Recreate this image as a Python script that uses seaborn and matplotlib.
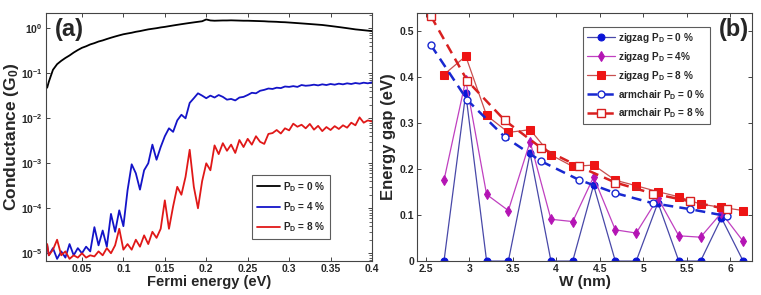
import numpy as np
import pandas as pd
import matplotlib
matplotlib.use("Agg")
import matplotlib.pyplot as plt
import seaborn as sns

# ---- panel (a): conductance vs Fermi energy ----
energy = [0.008, 0.01, 0.015, 0.02, 0.025, 0.03, 0.035, 0.04, 0.045, 0.05,
          0.055, 0.06, 0.065, 0.07, 0.075, 0.08, 0.085, 0.09, 0.095, 0.1,
          0.105, 0.11, 0.115, 0.12, 0.125, 0.13, 0.135, 0.14, 0.145, 0.15,
          0.155, 0.16, 0.165, 0.17, 0.175, 0.18, 0.185, 0.19, 0.195, 0.2,
          0.205, 0.21, 0.215, 0.22, 0.225, 0.23, 0.235, 0.24, 0.245, 0.25,
          0.255, 0.26, 0.265, 0.27, 0.275, 0.28, 0.285, 0.29, 0.295, 0.3,
          0.305, 0.31, 0.315, 0.32, 0.325, 0.33, 0.335, 0.34, 0.345, 0.35,
          0.355, 0.36, 0.365, 0.37, 0.375, 0.38, 0.385, 0.39, 0.395, 0.4]

g_p0 = [0.048, 0.065, 0.12, 0.16, 0.19, 0.22, 0.25, 0.29, 0.33, 0.37,
        0.40, 0.44, 0.47, 0.51, 0.54, 0.58, 0.62, 0.66, 0.70, 0.74,
        0.77, 0.80, 0.84, 0.87, 0.91, 0.95, 0.98, 1.01, 1.05, 1.08,
        1.12, 1.16, 1.20, 1.24, 1.28, 1.32, 1.36, 1.40, 1.44, 1.58,
        1.50, 1.48, 1.49, 1.50, 1.50, 1.51, 1.50, 1.49, 1.48, 1.48,
        1.47, 1.46, 1.45, 1.44, 1.42, 1.41, 1.40, 1.38, 1.37, 1.35,
        1.33, 1.31, 1.29, 1.27, 1.25, 1.23, 1.21, 1.19, 1.16, 1.13,
        1.10, 1.07, 1.04, 1.01, 0.98, 0.95, 0.93, 0.91, 0.89, 0.87]

g_p4 = [1.5e-5, 9e-6, 1.3e-5, 7.5e-6, 1.1e-5, 8e-6, 1.6e-5, 9e-6, 1.3e-5, 1.0e-5,
        1.4e-5, 1.1e-5, 3.8e-5, 1.5e-5, 3.2e-5, 1.4e-5, 7.5e-5, 3.0e-5, 9e-5, 4e-5,
        2.5e-4, 9.5e-4, 6e-4, 2.6e-4, 7e-4, 1.0e-3, 2.6e-3, 1.2e-3, 2.3e-3, 4.0e-3,
        6e-3, 5e-3, 9e-3, 1.2e-2, 1.0e-2, 2.2e-2, 2.8e-2, 3.6e-2, 3.2e-2, 2.8e-2,
        3.2e-2, 2.9e-2, 3.3e-2, 3.0e-2, 2.6e-2, 2.7e-2, 2.5e-2, 2.9e-2, 3.0e-2, 3.3e-2,
        3.7e-2, 3.6e-2, 4.1e-2, 4.3e-2, 4.6e-2, 4.5e-2, 4.8e-2, 4.7e-2, 5.1e-2, 5.0e-2,
        5.2e-2, 5.0e-2, 5.5e-2, 5.3e-2, 5.4e-2, 5.6e-2, 5.4e-2, 5.7e-2, 5.5e-2, 5.8e-2,
        5.6e-2, 5.9e-2, 5.7e-2, 6.0e-2, 5.8e-2, 6.1e-2, 5.9e-2, 6.2e-2, 6.0e-2, 6.3e-2]

g_p8 = [1.6e-5, 9e-6, 1.2e-5, 2.0e-5, 9e-6, 1.1e-5, 7.5e-6, 9e-6, 8e-6, 1.0e-5,
        8e-6, 9e-6, 8.5e-6, 1.1e-5, 9e-6, 1.3e-5, 1.0e-5, 1.5e-5, 3.5e-5, 1.2e-5,
        1.6e-5, 1.2e-5, 2.0e-5, 1.4e-5, 2.5e-5, 1.6e-5, 3.0e-5, 2.2e-5, 3.5e-5, 1.5e-4,
        3.5e-5, 1.1e-4, 3.0e-4, 2.0e-4, 5e-4, 2.0e-3, 3e-4, 1.0e-4, 4e-4, 1.0e-3,
        7e-4, 2.5e-3, 1.6e-3, 2.8e-3, 1.9e-3, 2.6e-3, 1.7e-3, 3.3e-3, 2.3e-3, 3.5e-3,
        2.6e-3, 4.0e-3, 3.0e-3, 2.7e-3, 4.5e-3, 4.7e-3, 5.5e-3, 4.6e-3, 6.0e-3, 5.4e-3,
        7.6e-3, 6.5e-3, 7.2e-3, 6.0e-3, 7.5e-3, 5.6e-3, 6.8e-3, 5.2e-3, 6.4e-3, 5.5e-3,
        6.7e-3, 5.8e-3, 7.0e-3, 6.2e-3, 8.0e-3, 7.0e-3, 1.05e-2, 8.0e-3, 9.0e-3, 8.5e-3]

# ---- panel (b): energy gap vs ribbon width ----
w_zigzag = [2.71, 2.96, 3.2, 3.45, 3.7, 3.94, 4.19, 4.43, 4.68, 4.92, 5.17, 5.41, 5.66, 5.9, 6.15]
gap_zz_p0 = [0, 0.365, 0, 0, 0.235, 0, 0, 0.165, 0, 0, 0.127, 0, 0, 0.094, 0]
gap_zz_p4 = [0.176, 0.394, 0.145, 0.11, 0.26, 0.091, 0.086, 0.183, 0.068, 0.061, 0.137, 0.055, 0.052, 0.105, 0.043]
gap_zz_p8 = [0.406, 0.446, 0.317, 0.28, 0.286, 0.231, 0.206, 0.209, 0.176, 0.164, 0.151, 0.14, 0.124, 0.117, 0.11]

w_armchair = [2.56, 2.98, 3.41, 3.83, 4.26, 4.68, 5.11, 5.54, 5.96]
gap_ac_p0 = [0.47, 0.35, 0.27, 0.217, 0.177, 0.148, 0.126, 0.113, 0.098]
gap_ac_p8 = [0.533, 0.392, 0.306, 0.246, 0.206, 0.171, 0.147, 0.13, 0.113]

sns.set_style("ticks")
plt.rcParams["font.family"] = ["Liberation Sans", "DejaVu Sans"]
plt.rcParams["font.weight"] = "bold"
plt.rcParams["axes.labelweight"] = "bold"
plt.rcParams["mathtext.fontset"] = "custom"
plt.rcParams["mathtext.rm"] = "Liberation Sans:bold"
plt.rcParams["mathtext.bf"] = "Liberation Sans:bold"
plt.rcParams["mathtext.default"] = "bf"

fig = plt.figure(figsize=(7.61, 2.95), dpi=100)
ax1 = fig.add_axes([0.0598, 0.115, 0.429, 0.841])
ax2 = fig.add_axes([0.548, 0.115, 0.440, 0.841])

df_a = pd.DataFrame({"E": energy, "p0": g_p0, "p4": g_p4, "p8": g_p8})
for col, color, lab in [("p0", "black", "P$_D$ = 0 %"),
                        ("p4", "#1414c8", "P$_D$ = 4 %"),
                        ("p8", "#e01818", "P$_D$ = 8 %")]:
    sns.lineplot(data=df_a, x="E", y=col, ax=ax1, color=color, lw=1.3,
                 estimator=None, sort=False, label=lab)
ax1.set_yscale("log")
ax1.set_xlim(0.006, 0.4)
ax1.set_ylim(6.7e-6, 2.2)
ax1.set_xticks([0.05, 0.1, 0.15, 0.2, 0.25, 0.3, 0.35, 0.4])
ax1.set_xticklabels(["0.05", "0.1", "0.15", "0.2", "0.25", "0.3", "0.35", "0.4"])
ax1.set_xlabel("Fermi energy (eV)", fontsize=10.5, labelpad=1)
ax1.set_ylabel("Conductance (G$_0$)", fontsize=12.5, labelpad=0)
ax1.text(0.03, 0.935, "(a)", transform=ax1.transAxes, fontsize=17,
         fontweight="bold", va="center", ha="left")
leg1 = ax1.legend(loc="upper left", bbox_to_anchor=(0.632, 0.347), fontsize=7.2,
                  frameon=True, fancybox=False, edgecolor="#333333",
                  handlelength=2.3, handletextpad=0.3, borderpad=0.5,
                  labelspacing=0.65, borderaxespad=0)
leg1.get_frame().set_linewidth(0.8)

# zigzag and armchair series
zz = pd.DataFrame({"W": w_zigzag, "p0": gap_zz_p0, "p4": gap_zz_p4, "p8": gap_zz_p8})
ac = pd.DataFrame({"W": w_armchair, "p0": gap_ac_p0, "p8": gap_ac_p8})

sns.lineplot(data=zz, x="W", y="p0", ax=ax2, color="#4848a8", lw=0.9,
             marker="o", ms=5, mfc="#0a14d8", mec="#0a14d8",
             estimator=None, sort=False, label="zigzag P$_D$ = 0 %")
sns.lineplot(data=zz, x="W", y="p4", ax=ax2, color="#c040c0", lw=0.9,
             marker="d", ms=5.5, mfc="#b414b4", mec="#b414b4",
             estimator=None, sort=False, label="zigzag P$_D$ = 4%")
sns.lineplot(data=zz, x="W", y="p8", ax=ax2, color="#c85050", lw=0.9,
             marker="s", ms=6, mfc="#ee1414", mec="#ee1414",
             estimator=None, sort=False, label="zigzag P$_D$ = 8 %")
sns.lineplot(data=ac, x="W", y="p0", ax=ax2, color="#1828d0", lw=1.8,
             ls=(0, (4, 2.5)), marker="o", ms=5, mfc="white", mec="#1828d0",
             mew=1.0, estimator=None, sort=False, label="armchair P$_D$ = 0 %")
sns.lineplot(data=ac, x="W", y="p8", ax=ax2, color="#d82020", lw=1.8,
             ls=(0, (4, 2.5)), marker="s", ms=6, mfc="white", mec="#d82020",
             mew=1.0, estimator=None, sort=False, label="armchair P$_D$ = 8 %")
ax2.set_xlim(2.40, 6.25)
ax2.set_ylim(0, 0.54)
ax2.set_xticks([2.5, 3, 3.5, 4, 4.5, 5, 5.5, 6])
ax2.set_xticklabels(["2.5", "3", "3.5", "4", "4.5", "5", "5.5", "6"])
ax2.set_yticks([0, 0.1, 0.2, 0.3, 0.4, 0.5])
ax2.set_yticklabels(["0", "0.1", "0.2", "0.3", "0.4", "0.5"])
ax2.set_xlabel("W (nm)", fontsize=11, labelpad=1)
ax2.set_ylabel("Energy gap (eV)", fontsize=12, labelpad=3)
ax2.text(0.992, 0.935, "(b)", transform=ax2.transAxes, fontsize=17,
         fontweight="bold", va="center", ha="right")
leg2 = ax2.legend(loc="upper left", bbox_to_anchor=(0.496, 0.944), fontsize=7.2,
                  frameon=True, fancybox=False, edgecolor="#333333",
                  handlelength=2.8, handletextpad=0.3, borderpad=0.4,
                  labelspacing=0.5, borderaxespad=0)
leg2.get_frame().set_linewidth(0.8)

for ax in (ax1, ax2):
    ax.tick_params(direction="in", top=True, right=True, labelsize=7.5,
                   length=3, width=0.6, pad=2)
    for sp in ax.spines.values():
        sp.set_visible(True)
        sp.set_color("#444444")
        sp.set_linewidth(0.8)
ax1.tick_params(axis="y", which="minor", direction="in", left=False, right=True,
                length=2, width=0.5)
ax1.tick_params(axis="x", which="minor", bottom=False, top=False)

fig.savefig("out.png", dpi=100)
